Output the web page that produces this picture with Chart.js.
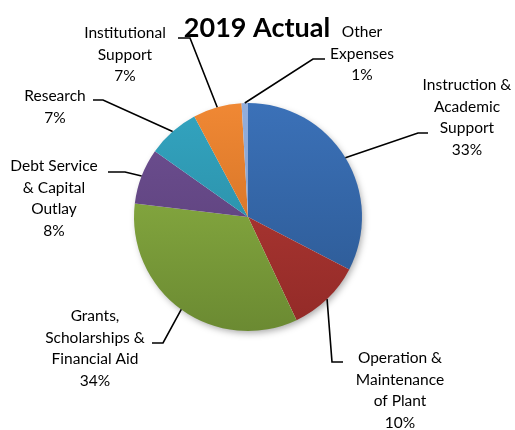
<!DOCTYPE html>
<html>
<head>
<meta charset="utf-8">
<script src="https://cdn.jsdelivr.net/npm/chart.js@4"></script>
<style>
    html, body { margin: 0; padding: 0; background: #fff; }
</style>
</head>
<body>
<canvas id="chart" width="515" height="430"></canvas>
<script>
const chartTitle = "2019 Actual";
const categories = [
    "Instruction & Academic Support",
    "Operation & Maintenance of Plant",
    "Grants, Scholarships & Financial Aid",
    "Debt Service & Capital Outlay",
    "Research",
    "Institutional Support",
    "Other Expenses"
];
const shares = [32.6, 10.4, 33.9, 7.9, 7.4, 6.9, 0.9];
const labelLines = [
    ["Instruction &", "Academic", "Support"],
    ["Operation &", "Maintenance", "of Plant"],
    ["Grants,", "Scholarships &", "Financial Aid"],
    ["Debt Service", "& Capital", "Outlay"],
    ["Research"],
    ["Institutional", "Support"],
    ["Other", "Expenses"]
];
const topColors = ["#3b71b8", "#b73c37", "#92b846", "#6e5093", "#33a4c0", "#f08834", "#93aedb"];
const bottomColors = ["#2b5790", "#922a27", "#6b8a32", "#573c73", "#27859b", "#c4681f", "#7f9bc8"];

// where each data label sits (text centre x, first line y) and its leader line
const labelPlacement = [
    { x: 467, y: 85, elbow: [418, 133], end: [428, 133] },
    { x: 400, y: 358, elbow: [332, 362], end: [343, 362] },
    { x: 95, y: 316, elbow: [163, 343], end: [152, 343] },
    { x: 54, y: 166, elbow: [125, 172], end: [108, 172] },
    { x: 55, y: 96, elbow: [103, 100], end: [93, 100] },
    { x: 125, y: 33, elbow: [190, 38], end: [178, 38] },
    { x: 362, y: 32, elbow: [313, 59], end: [325, 59] }
];
const LINE_HEIGHT = 21.5;

function sliceFill(ctx) {
    const chart = ctx.chart;
    const area = chart.chartArea;
    const i = ctx.dataIndex;
    if (!area) return topColors[i];
    const g = chart.ctx.createLinearGradient(0, area.top, 0, area.bottom);
    g.addColorStop(0, topColors[i]);
    g.addColorStop(1, bottomColors[i]);
    return g;
}

const pieDecor = {
    id: "pieDecor",
    beforeDatasetsDraw(chart) {
        const arc = chart.getDatasetMeta(0).data[0];
        if (!arc) return;
        const c = chart.ctx;
        c.save();
        c.shadowColor = "rgba(0,0,0,0.35)";
        c.shadowBlur = 7;
        c.shadowOffsetX = 2;
        c.shadowOffsetY = 3;
        c.fillStyle = "#fff";
        c.beginPath();
        c.arc(arc.x, arc.y, arc.outerRadius - 1, 0, Math.PI * 2);
        c.fill();
        c.restore();
    },
    afterDraw(chart) {
        const c = chart.ctx;
        const meta = chart.getDatasetMeta(0);
        const total = shares.reduce((a, b) => a + b, 0);

        c.save();
        c.fillStyle = "#000";
        c.textAlign = "center";
        c.textBaseline = "alphabetic";
        c.font = "bold 27px Lato";
        c.fillText(chartTitle, 257, 37);

        c.strokeStyle = "#000";
        c.lineWidth = 1.6;
        c.font = "15.5px Lato";
        c.textBaseline = "middle";
        meta.data.forEach((arc, i) => {
            const mid = (arc.startAngle + arc.endAngle) / 2;
            const px = arc.x + Math.cos(mid) * arc.outerRadius;
            const py = arc.y + Math.sin(mid) * arc.outerRadius;
            const p = labelPlacement[i];
            c.beginPath();
            c.moveTo(px, py);
            c.lineTo(p.elbow[0], p.elbow[1]);
            c.lineTo(p.end[0], p.end[1]);
            c.stroke();

            const lines = labelLines[i].concat([Math.round(shares[i] / total * 100) + "%"]);
            lines.forEach((t, k) => c.fillText(t, p.x, p.y + k * LINE_HEIGHT));
        });
        c.restore();
    }
};

new Chart(document.getElementById("chart"), {
    type: "pie",
    data: {
        labels: categories,
        datasets: [{
            data: shares,
            backgroundColor: sliceFill,
            borderWidth: 0
        }]
    },
    options: {
        responsive: false,
        animation: false,
        layout: { padding: { left: 134, right: 153, top: 103, bottom: 99 } },
        plugins: {
            legend: { display: false },
            tooltip: { enabled: false }
        }
    },
    plugins: [pieDecor]
});
</script>
</body>
</html>
